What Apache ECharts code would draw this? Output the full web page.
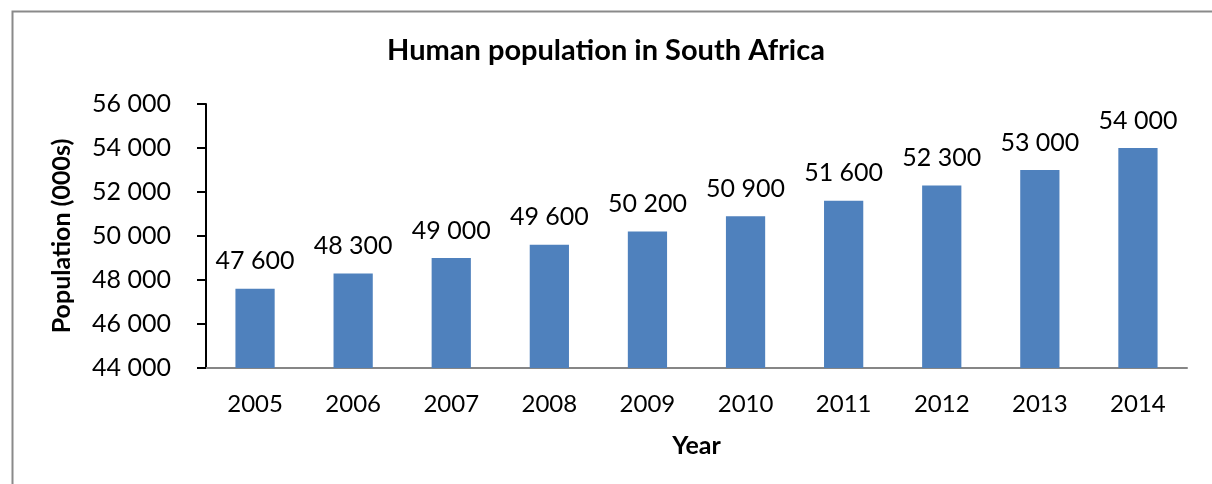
<!DOCTYPE html>
<html><head><meta charset="utf-8">
<script src="https://cdn.jsdelivr.net/npm/echarts@6/dist/echarts.min.js"></script>
<style>html,body{margin:0;padding:0;background:#fff}#c{width:1212px;height:484px}</style>
</head><body><div id="c"></div>
<script>
const years = ['2005','2006','2007','2008','2009','2010','2011','2012','2013','2014'];
const population = [47600, 48300, 49000, 49600, 50200, 50900, 51600, 52300, 53000, 54000];
const titleText = 'Human population in South Africa';
const yName = 'Population (000s)';
const xName = 'Year';
const fmt = v => String(v).replace(/\B(?=(\d{3})+(?!\d))/g, ' ');
const FONT = 'Lato';
const chart = echarts.init(document.getElementById('c'), null, {renderer: 'canvas'});
chart.setOption({
  animation: false,
  backgroundColor: '#fff',
  textStyle: {fontFamily: FONT},
  graphic: [{
    type: 'rect', left: 10, top: 9, silent: true,
    shape: {x: 0, y: 0, width: 1300, height: 600},
    style: {fill: 'none', stroke: '#8a8a8a', lineWidth: 2}
  }],
  title: {
    text: titleText, left: 'center', top: 31,
    textStyle: {fontFamily: FONT, fontWeight: 'bold', fontSize: 29, color: '#000'}
  },
  grid: {left: 206, right: 25, top: 104, bottom: 116, containLabel: false},
  xAxis: {
    type: 'category', data: years, name: xName, nameLocation: 'middle', nameGap: 65,
    nameTextStyle: {fontFamily: FONT, fontWeight: 'bold', fontSize: 25, color: '#000'},
    axisLine: {lineStyle: {color: '#868686', width: 2}},
    axisTick: {show: false},
    axisLabel: {fontFamily: FONT, fontSize: 24, color: '#000', margin: 24}
  },
  yAxis: {
    type: 'value', min: 44000, max: 56000, interval: 2000,
    name: yName, nameLocation: 'middle', nameGap: 132, nameRotate: 90,
    nameTextStyle: {fontFamily: FONT, fontWeight: 'bold', fontSize: 25, color: '#000'},
    splitLine: {show: false},
    axisLine: {show: true, lineStyle: {color: '#000', width: 2}},
    axisTick: {show: true, length: 9, lineStyle: {color: '#000', width: 2}},
    axisLabel: {fontFamily: FONT, fontSize: 25, color: '#000', margin: 35, formatter: fmt}
  },
  series: [{
    type: 'bar', data: population, barWidth: '40%',
    itemStyle: {color: '#4F81BD'},
    label: {show: true, position: 'top', distance: 15, fontFamily: FONT, fontSize: 25, color: '#000',
      formatter: p => fmt(p.value)}
  }]
});
</script></body></html>
